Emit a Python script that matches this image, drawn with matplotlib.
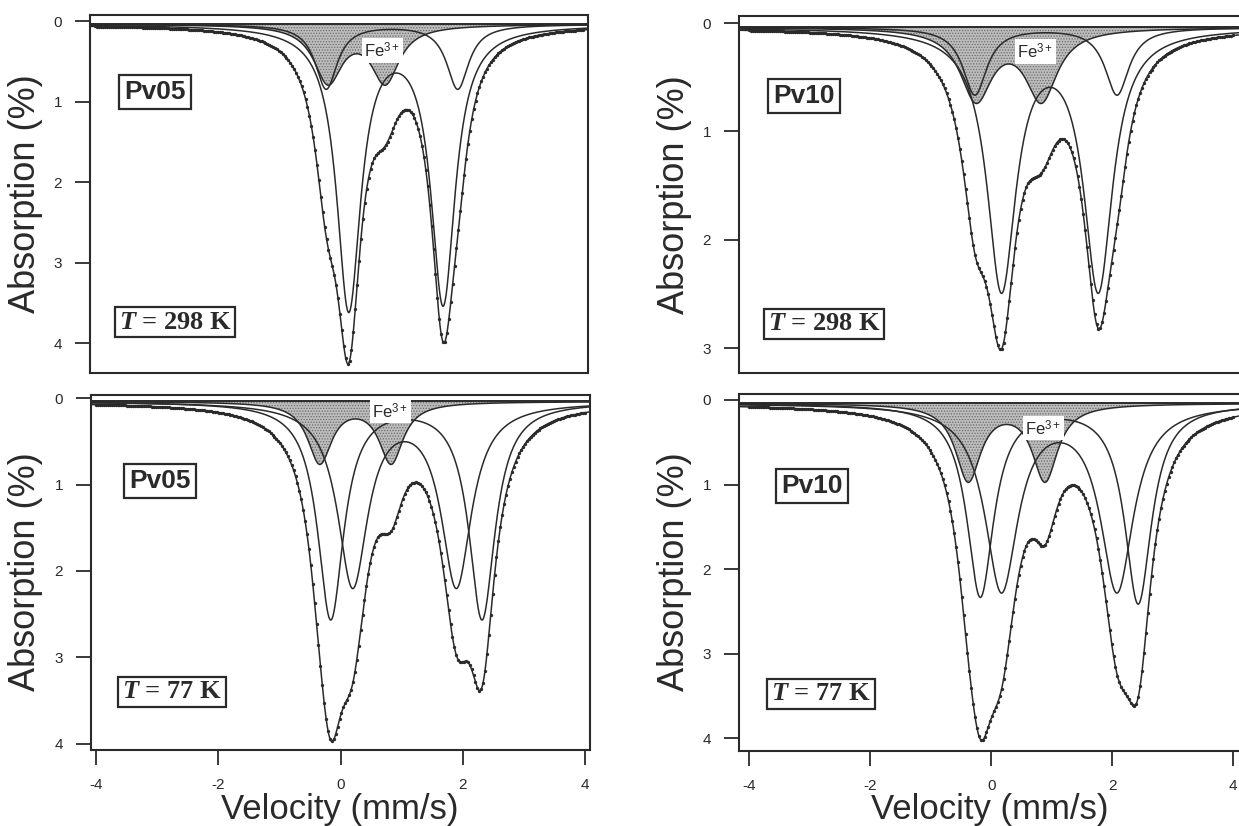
import numpy as np
import matplotlib
matplotlib.use('Agg')
import matplotlib.pyplot as plt

plt.rcParams['font.family'] = ['Liberation Sans', 'DejaVu Sans']
plt.rcParams['mathtext.fontset'] = 'custom'
plt.rcParams['mathtext.rm'] = 'Liberation Sans'
plt.rcParams['mathtext.it'] = 'Liberation Serif:italic:bold'
plt.rcParams['hatch.linewidth'] = 0.6

W, H = 1239, 826
INK = '#2a2a2a'

# fitted lines: centre (mm/s), depth (%), half width (mm/s)
# each panel has two Fe2+ doublets and one Fe3+ doublet (shaded)
pv05_rt_centres = [[0.16, 1.71], [-0.21, 1.95], [-0.18, 0.76]]
pv05_rt_depths = [[3.50, 3.42], [0.80, 0.80], [0.70, 0.70]]
pv05_rt_widths = [0.24, 0.22, 0.28]

pv10_rt_centres = [[0.17, 1.77], [-0.27, 2.08], [-0.25, 0.83]]
pv10_rt_depths = [[2.38, 2.38], [0.62, 0.62], [0.65, 0.65]]
pv10_rt_widths = [0.29, 0.24, 0.32]

pv05_lt_centres = [[-0.16, 2.32], [0.20, 1.90], [-0.34, 0.83]]
pv05_lt_depths = [[2.50, 2.50], [2.10, 2.10], [0.70, 0.70]]
pv05_lt_widths = [0.26, 0.30, 0.24]

pv10_lt_centres = [[-0.18, 2.43], [0.17, 2.08], [-0.38, 0.89]]
pv10_lt_depths = [[2.27, 2.35], [2.18, 2.18], [0.90, 0.90]]
pv10_lt_widths = [0.27, 0.33, 0.255]

baselines = [0.04, 0.04, 0.04, 0.04]
sample_names = ['Pv05', 'Pv10', 'Pv05', 'Pv10']
temp_labels = [r'$\mathit{T}$ = 298 K', r'$\mathit{T}$ = 298 K',
               r'$\mathit{T}$ = 77 K', r'$\mathit{T}$ = 77 K']
yticks_list = [[0, 1, 2, 3, 4], [0, 1, 2, 3], [0, 1, 2, 3, 4], [0, 1, 2, 3, 4]]
xticks = [-4, -2, 0, 2, 4]


def lorentz(v, centre, depth, hw):
    return depth / (1.0 + ((v - centre) / hw) ** 2)


def doublet(v, centres, depths, hw):
    return sum(lorentz(v, c, d, hw) for c, d in zip(centres, depths))


def px_rect(left, top, right, bottom):
    return [left / W, 1 - bottom / H, (right - left) / W, (bottom - top) / H]


def fig_xy(x, y):
    return x / W, 1 - y / H


fig = plt.figure(figsize=(W / 100, H / 100), dpi=100)

# pixel frames of the four panels and their limits
frames = [(90, 15, 588, 373), (739, 16, 1241, 373),
          (91, 395, 590, 750), (739, 394, 1241, 751)]
xlims = [(-4.09, 4.09), (-4.17, 4.13), (-4.09, 4.09), (-4.17, 4.13)]
ylims = [(4.37, -0.075), (3.23, -0.065), (4.07, -0.035), (4.15, -0.07)]
centres_all = [pv05_rt_centres, pv10_rt_centres, pv05_lt_centres, pv10_lt_centres]
depths_all = [pv05_rt_depths, pv10_rt_depths, pv05_lt_depths, pv10_lt_depths]
widths_all = [pv05_rt_widths, pv10_rt_widths, pv05_lt_widths, pv10_lt_widths]

name_pos = [(155, 92), (804, 96), (160, 481), (812, 486)]
temp_pos = [(175, 322), (824, 324), (172, 692), (821, 694)]
fe_pos = [(364, 57), (1017, 58), (372, 418), (1025, 435)]

for i in range(4):
    ax = fig.add_axes(px_rect(*frames[i]))
    b = baselines[i]
    v = np.linspace(-4.2, 4.2, 1200)
    ch = np.linspace(-4.0, 4.0, 256)

    comps = [doublet(v, c, d, w) for c, d, w in
             zip(centres_all[i], depths_all[i], widths_all[i])]
    total = b + sum(comps)
    total_ch = b + sum(doublet(ch, c, d, w) for c, d, w in
                       zip(centres_all[i], depths_all[i], widths_all[i]))

    # shaded Fe3+ doublet
    ax.fill_between(v, b, b + comps[2], facecolor='#bdbdbd', hatch='......',
                    edgecolor='#6a6a6a', linewidth=0, zorder=1)
    ax.axhline(b, color=INK, lw=1.4, zorder=2)
    for comp in comps:
        ax.plot(v, b + comp, color=INK, lw=1.1, zorder=3)
    ax.plot(v, total, color=INK, lw=1.1, zorder=3)
    ax.plot(ch, total_ch, 'o', ms=2.4, color=INK, mew=0, zorder=4)

    ax.set_xlim(*xlims[i])
    ax.set_ylim(*ylims[i])
    ax.set_yticks(yticks_list[i])
    if i < 2:
        ax.set_xticks([])
    else:
        ax.set_xticks(xticks)
        ax.set_xticklabels(['-4', '-2', '0', '2', '4'])
    ax.tick_params(axis='y', direction='out', length=11, width=1.3, pad=9,
                   labelsize=11, colors=INK)
    ax.tick_params(axis='x', direction='out', length=11, width=1.3, pad=9,
                   labelsize=11, colors=INK)
    for sp in ax.spines.values():
        sp.set_linewidth(1.5)
        sp.set_color(INK)

    fig.text(*fig_xy(*name_pos[i]), sample_names[i], ha='center', va='center',
             fontsize=19, fontweight='bold', color=INK,
             bbox=dict(boxstyle='square,pad=0.2', fc='white', ec=INK, lw=1.6))
    fig.text(*fig_xy(*temp_pos[i]), temp_labels[i], ha='center', va='center',
             fontsize=19, fontweight='bold', family='Liberation Serif',
             color=INK,
             bbox=dict(boxstyle='square,pad=0.15', fc='white', ec=INK, lw=1.6))
    fig.text(*fig_xy(*fe_pos[i]), r'Fe$^{3+}$', ha='left', va='baseline',
             fontsize=12, color=INK,
             bbox=dict(boxstyle='square,pad=0.15', fc='white', ec='none'))

# axis titles
for x, y in [(26, 194), (26, 572), (675, 195), (675, 572)]:
    fig.text(*fig_xy(x, y), 'Absorption (%)', rotation=90, ha='center',
             va='center', fontsize=26, color=INK)
for x in [340, 990]:
    fig.text(*fig_xy(x, 819), 'Velocity (mm/s)', ha='center', va='baseline',
             fontsize=25, color=INK)

fig.savefig('out.png', dpi=100)
